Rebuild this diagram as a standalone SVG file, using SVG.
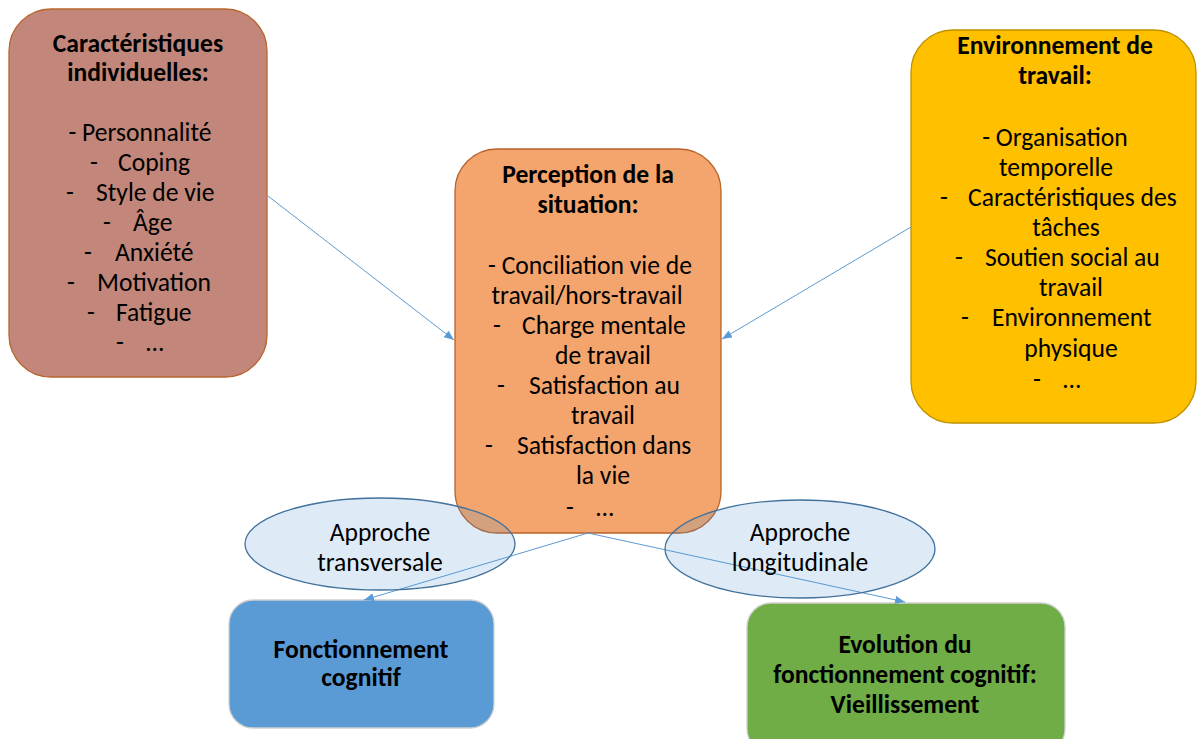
<svg xmlns="http://www.w3.org/2000/svg" width="1197" height="739" viewBox="0 0 1197 739">
  <defs>
    <marker id="arrow" viewBox="0 0 10 8" refX="10" refY="4" markerWidth="10" markerHeight="8" markerUnits="userSpaceOnUse" orient="auto">
      <path d="M0,0 L10,4 L0,8 z" fill="#5B9BD5"/>
    </marker>
    <style>
      text { font-family: Carlito, Lato, "Open Sans", sans-serif; fill: #000; }
      .t { font-size: 25.6px; }
      .b { font-size: 25.6px; font-weight: bold; }
      .c { text-anchor: middle; }
      .link { stroke: #5B9BD5; stroke-width: 1; fill: none; }
      .oval { fill: #4890D3; fill-opacity: 0.18; stroke: #41719C; stroke-width: 1.3; }
    </style>
  </defs>

  <rect width="1197" height="739" fill="#FFFFFF"/>

  <!-- Individual characteristics -->
  <g id="individuel">
    <rect x="9" y="9" width="258" height="368" rx="42" ry="42" fill="#C2877A" stroke="#B8652E" stroke-width="1.3"/>
    <text class="b c" x="138" y="52">Caractéristiques</text>
    <text class="b c" x="138" y="81">individuelles:</text>
    <text class="t c" x="140" y="141">- Personnalité</text>
    <text class="t"><tspan x="90" y="171">-</tspan><tspan x="118" y="171">Coping</tspan></text>
    <text class="t"><tspan x="66" y="201">-</tspan><tspan x="96" y="201">Style de vie</tspan></text>
    <text class="t"><tspan x="103" y="231">-</tspan><tspan x="133" y="231">Âge</tspan></text>
    <text class="t"><tspan x="84" y="261">-</tspan><tspan x="115" y="261">Anxiété</tspan></text>
    <text class="t"><tspan x="67" y="291">-</tspan><tspan x="97" y="291">Motivation</tspan></text>
    <text class="t"><tspan x="87" y="321">-</tspan><tspan x="116" y="321">Fatigue</tspan></text>
    <text class="t"><tspan x="116" y="351">-</tspan><tspan x="146" y="351">…</tspan></text>
  </g>

  <!-- Perception of the situation -->
  <g id="perception">
    <rect x="455" y="149" width="266" height="384" rx="42" ry="42" fill="#F3A56D" stroke="#B8622A" stroke-width="1.3"/>
    <text class="b c" x="588" y="183">Perception de la</text>
    <text class="b c" x="588" y="213">situation:</text>
    <text class="t c" x="590" y="274">- Conciliation vie de</text>
    <text class="t c" x="587" y="304">travail/hors-travail</text>
    <text class="t"><tspan x="493" y="334">-</tspan><tspan x="522" y="334">Charge mentale</tspan></text>
    <text class="t c" x="603" y="364">de travail</text>
    <text class="t"><tspan x="497" y="394">-</tspan><tspan x="529" y="394">Satisfaction au</tspan></text>
    <text class="t c" x="603" y="424">travail</text>
    <text class="t"><tspan x="485" y="454">-</tspan><tspan x="517" y="454">Satisfaction dans</tspan></text>
    <text class="t c" x="603" y="484">la vie</text>
    <text class="t"><tspan x="566" y="516">-</tspan><tspan x="596" y="516">…</tspan></text>
  </g>

  <!-- Work environment -->
  <g id="environnement">
    <rect x="911" y="30" width="285" height="393" rx="42" ry="42" fill="#FFC000" stroke="#BF9000" stroke-width="1.3"/>
    <text class="b c" x="1055" y="54">Environnement de</text>
    <text class="b c" x="1055" y="84">travail:</text>
    <text class="t c" x="1055" y="146">- Organisation</text>
    <text class="t c" x="1056" y="176">temporelle</text>
    <text class="t"><tspan x="940" y="206">-</tspan><tspan x="968" y="206">Caractéristiques des</tspan></text>
    <text class="t c" x="1066" y="236">tâches</text>
    <text class="t"><tspan x="955" y="266">-</tspan><tspan x="985" y="266">Soutien social au</tspan></text>
    <text class="t c" x="1071" y="296">travail</text>
    <text class="t"><tspan x="961" y="326">-</tspan><tspan x="992" y="326">Environnement</tspan></text>
    <text class="t c" x="1071" y="357">physique</text>
    <text class="t"><tspan x="1033" y="388">-</tspan><tspan x="1063" y="388">…</tspan></text>
  </g>

  <!-- Cognitive functioning -->
  <g id="fonctionnement">
    <rect x="229" y="600" width="265" height="128" rx="24" ry="24" fill="#5B9BD5" stroke="#D0D0D0" stroke-width="1.3"/>
    <text class="b c" x="361" y="658">Fonctionnement</text>
    <text class="b c" x="361" y="686">cognitif</text>
  </g>

  <!-- Evolution of cognitive functioning -->
  <g id="evolution">
    <rect x="747" y="603" width="318" height="150" rx="24" ry="24" fill="#70AD47" stroke="#D0D0D0" stroke-width="1.3"/>
    <text class="b c" x="905" y="653">Evolution du</text>
    <text class="b c" x="905" y="683">fonctionnement cognitif:</text>
    <text class="b c" x="905" y="713">Vieillissement</text>
  </g>

  <!-- Connectors -->
  <g id="connectors">
    <line class="link" x1="268" y1="196" x2="454" y2="340" marker-end="url(#arrow)"/>
    <line class="link" x1="911" y1="227" x2="722" y2="339" marker-end="url(#arrow)"/>
    <line class="link" x1="588" y1="533" x2="364" y2="600" marker-end="url(#arrow)"/>
    <line class="link" x1="588" y1="533" x2="905" y2="602" marker-end="url(#arrow)"/>
  </g>

  <!-- Approach ellipses -->
  <g id="transversale">
    <ellipse class="oval" cx="380" cy="544" rx="135" ry="46"/>
    <text class="t c" x="380" y="541">Approche</text>
    <text class="t c" x="380" y="571">transversale</text>
  </g>
  <g id="longitudinale">
    <ellipse class="oval" cx="800" cy="549" rx="135" ry="49"/>
    <text class="t c" x="800" y="541">Approche</text>
    <text class="t c" x="800" y="571">longitudinale</text>
  </g>
</svg>
